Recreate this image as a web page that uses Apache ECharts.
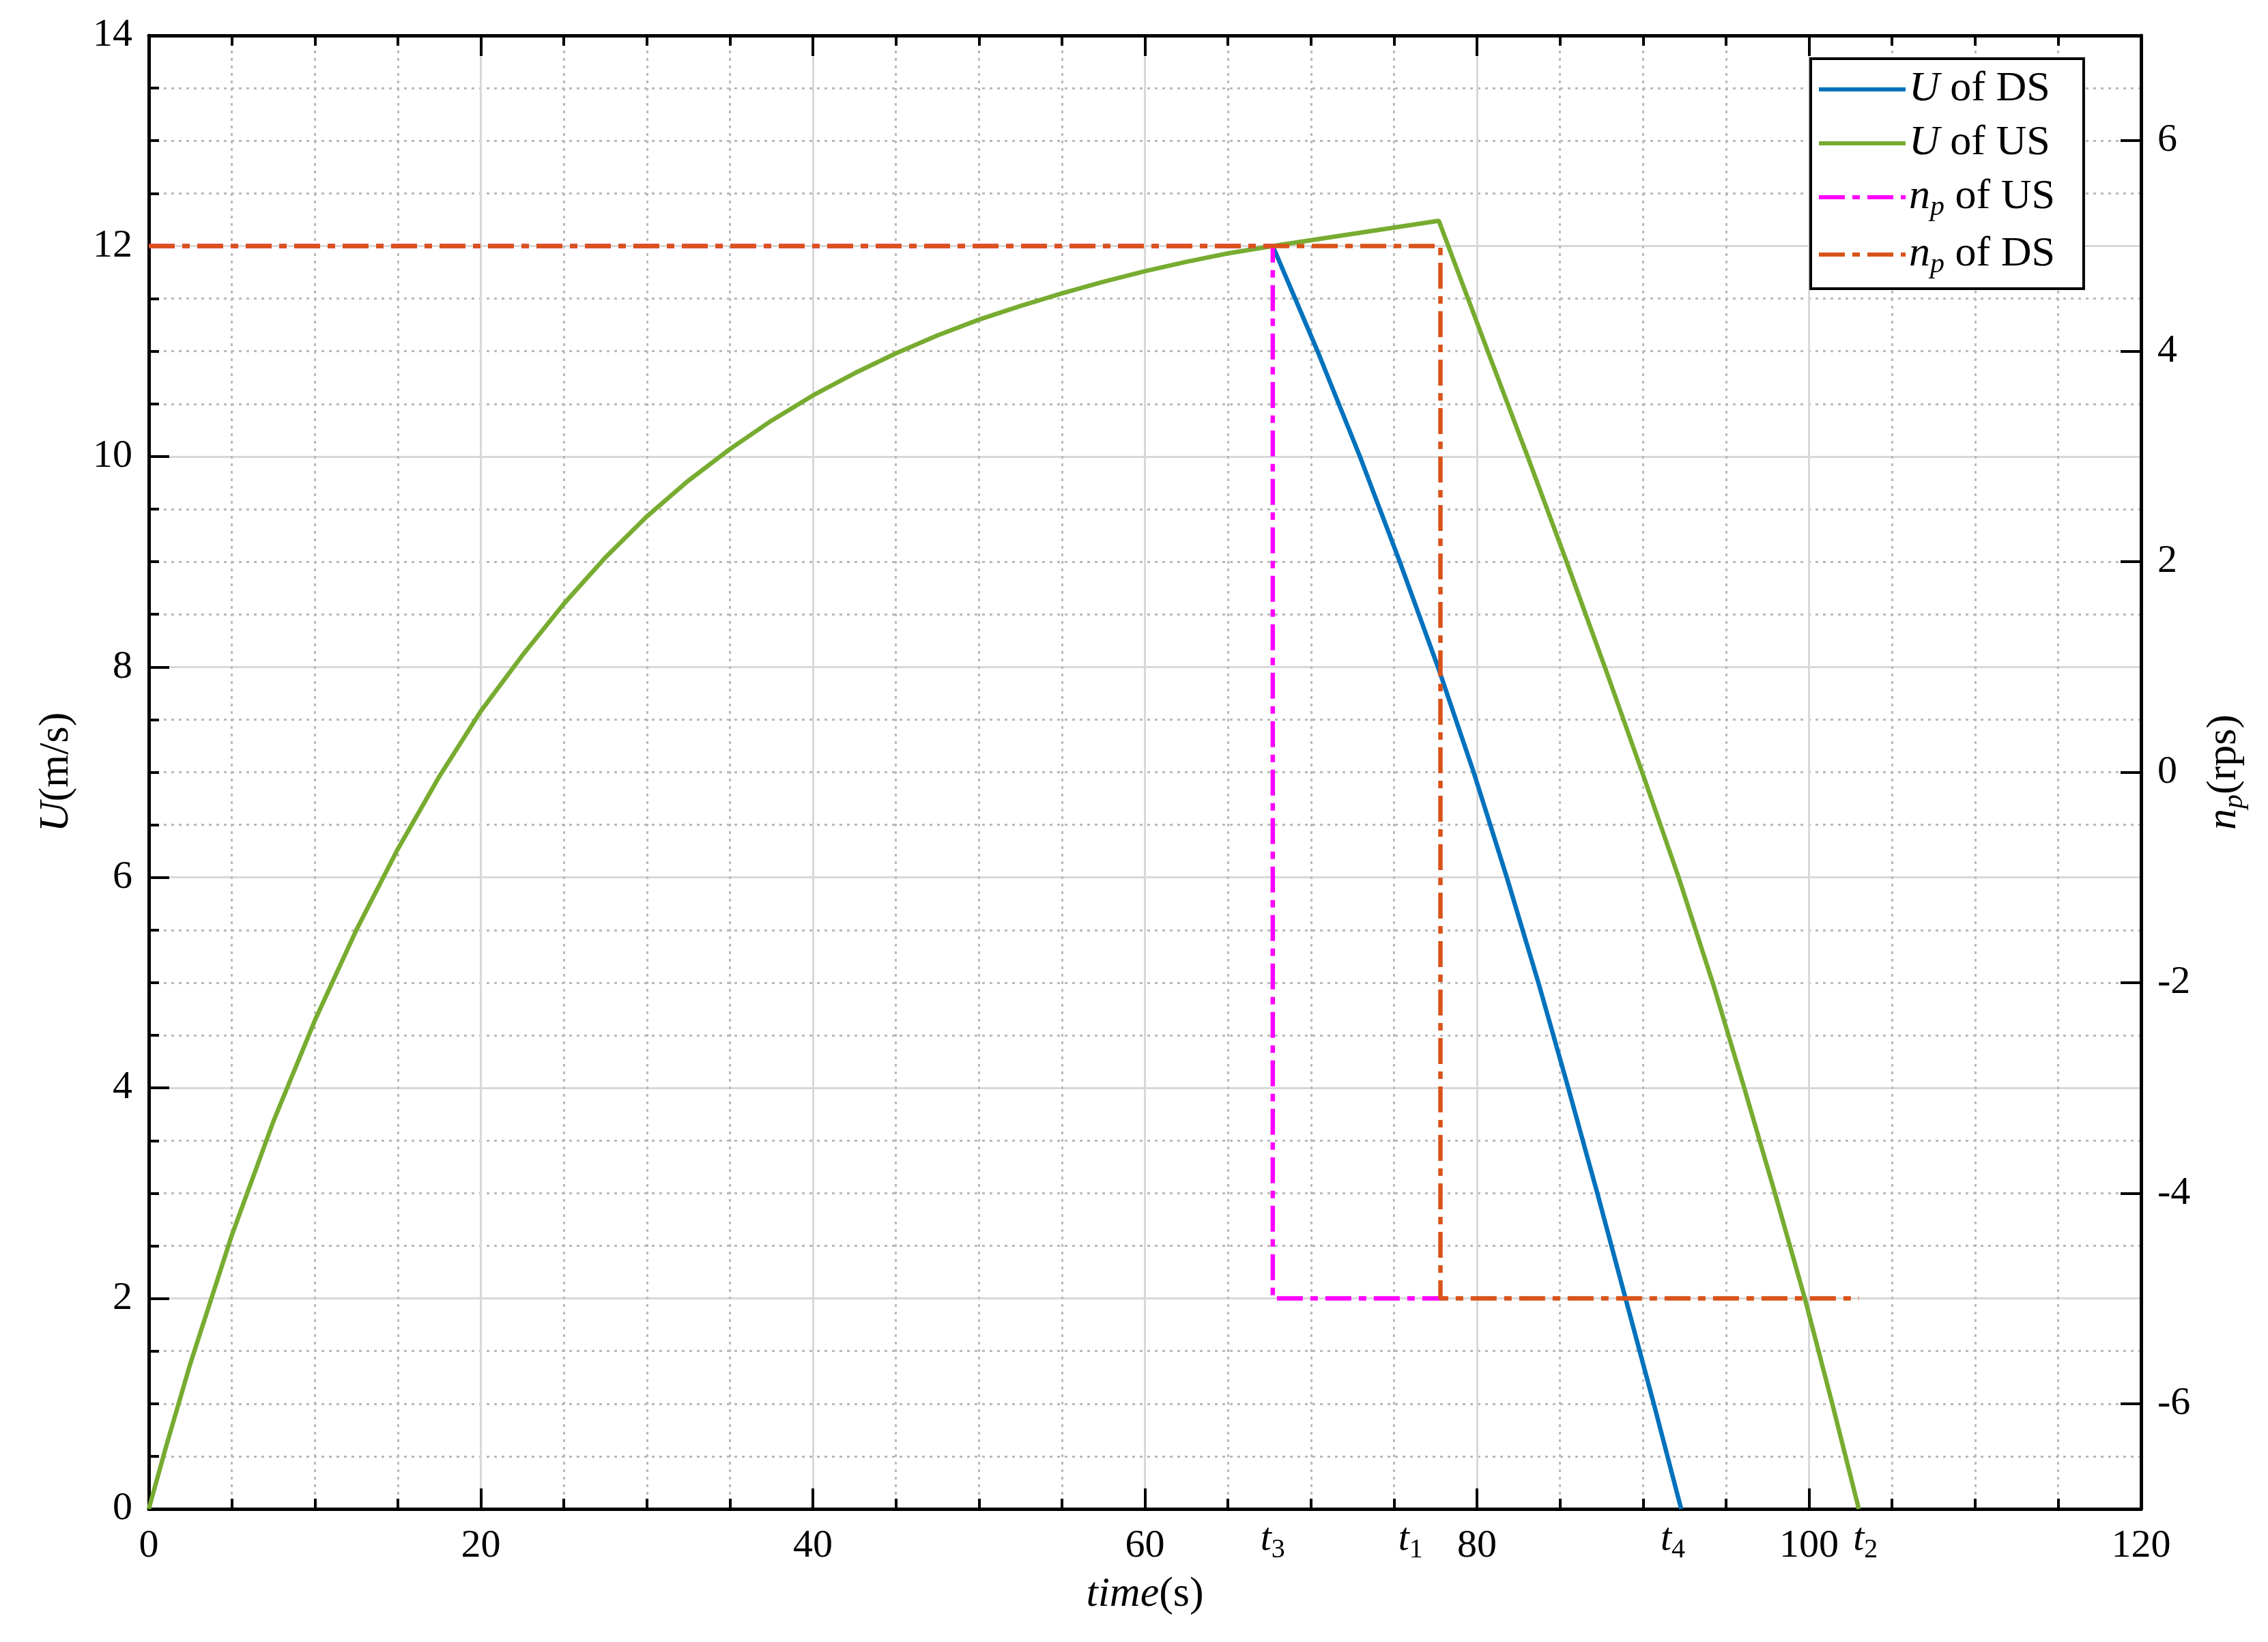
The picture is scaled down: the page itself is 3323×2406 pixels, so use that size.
<!DOCTYPE html>
<html><head><meta charset="utf-8">
<script src="https://cdn.jsdelivr.net/npm/echarts@6/dist/echarts.min.js"></script>
<style>html,body{margin:0;padding:0;background:#fff}#c{width:3323px;height:2406px}</style>
</head><body><div id="c"></div>
<script>
// ---- data ----
const tUS = [0, 1, 2.5, 5, 7.5, 10, 12.5, 15, 17.5, 20, 22.5, 25, 27.5, 30, 32.5, 35, 37.5, 40, 42.5, 45, 47.5, 50, 52.5, 55, 57.5, 60, 62.5, 65, 67.7,
             77.7, 80.65, 83.05, 85.4, 87.7, 89.95, 92.15, 94.2, 96.1, 97.95, 99.75, 101.4, 103.0];
const uUS = [0, 0.57, 1.38, 2.6, 3.68, 4.64, 5.5, 6.27, 6.96, 7.58, 8.11, 8.6, 9.04, 9.43, 9.77, 10.07, 10.34, 10.58, 10.79, 10.98, 11.15, 11.3, 11.43, 11.55, 11.66, 11.76, 11.85, 11.93, 12.0,
             12.24, 11, 10, 9, 8, 7, 6, 5, 4, 3, 2, 1, 0];
const tDS = [67.7, 70.4, 72.95, 75.35, 77.65, 79.8, 81.8, 83.7, 85.5, 87.25, 88.95, 90.65, 92.3];
const uDS = [12.0, 11, 10, 9, 8, 7, 6, 5, 4, 3, 2, 1, 0];
const tNpUS = [0, 67.7, 67.7, 77.8];
const npUS = [5, 5, -5, -5];
const tNpDS = [0, 77.8, 77.8, 103.0];
const npDS = [5, 5, -5, -5];
const eventTicks = [67.7, 76.0, 91.8, 103.4];
const eventSubs = ['3', '1', '4', '2'];
const rightTicks = [-6, -4, -2, 0, 2, 4, 6];
const seriesNames = ['U of DS', 'U of US', 'n_p of US', 'n_p of DS'];
const legendRich = ['{i|U} of DS', '{i|U} of US', '{i|n}{sub|p} of US', '{i|n}{sub|p} of DS'];

const zip = (a, b) => a.map((v, i) => [v, b[i]]);
const FONT = "'Liberation Serif', 'Times New Roman', serif";
const FS = 58;
const LFS = 62;
const legendRichStyles = {
  i: { fontFamily: FONT, fontStyle: 'italic', fontSize: LFS, color: '#000' },
  sub: { fontFamily: FONT, fontStyle: 'italic', fontSize: 42, color: '#000', padding: [30, 0, 0, 0] }
};
const axisLineStyle = { color: '#000', width: 5 };
const tickStyle = { color: '#000', width: 4 };
const majorGrid = { show: true, lineStyle: { color: '#d8d8d8', width: 3, type: 'solid' } };
const minorGrid = { show: true, lineStyle: { color: '#b9b9b9', width: 3, type: [4, 7] } };
const LW = 6.5;
const solidIcon = 'path://M0,0H127V6H0Z';
const dashIcon = 'path://M0,0H38V6H0Z M49,0H60V6H49Z M71,0H109V6H71Z M120,0H127V6H120Z';

const chart = echarts.init(document.getElementById('c'), null, { renderer: 'canvas' });
const dashDot = [38, 11, 11, 11];
chart.setOption({
  animation: false,
  backgroundColor: '#fff',
  grid: { left: 218, right: 186, top: 52, bottom: 195, containLabel: false },
  legend: {
    orient: 'vertical', left: 2653, top: 86,
    data: [
      { name: seriesNames[0], icon: solidIcon, itemStyle: { color: '#0072BD' } },
      { name: seriesNames[1], icon: solidIcon, itemStyle: { color: '#77AC30' } },
      { name: seriesNames[2], icon: dashIcon, itemStyle: { color: '#FF00FF' } },
      { name: seriesNames[3], icon: dashIcon, itemStyle: { color: '#D95319' } }
    ],
    itemWidth: 127, itemHeight: 6, itemGap: 17,
    padding: [14, 42, 14, 12],
    backgroundColor: '#fff', borderColor: '#000', borderWidth: 4, borderRadius: 0,
    formatter: n => legendRich[seriesNames.indexOf(n)],
    textStyle: { fontFamily: FONT, fontSize: LFS, color: '#000', lineHeight: 60, rich: legendRichStyles }
  },
  xAxis: [
    {
      type: 'value', min: 0, max: 120, interval: 20, position: 'bottom',
      name: '{i|time}(s)', nameLocation: 'middle', nameGap: 95,
      nameTextStyle: { fontFamily: FONT, fontSize: 62, color: '#000', rich: { i: { fontFamily: FONT, fontStyle: 'italic', fontSize: 62, color: '#000' } } },
      axisLine: { show: true, onZero: false, lineStyle: axisLineStyle },
      axisTick: { show: true, inside: true, length: 30, lineStyle: tickStyle },
      minorTick: { show: true, splitNumber: 4, length: 15, lineStyle: tickStyle },
      axisLabel: { fontFamily: FONT, fontSize: FS, color: '#000', margin: 26 },
      splitLine: majorGrid, minorSplitLine: minorGrid
    },
    {
      type: 'value', min: 0, max: 120, position: 'bottom',
      axisLine: { show: false }, axisTick: { show: false }, splitLine: { show: false },
      axisLabel: {
        show: true, customValues: eventTicks, margin: 10,
        formatter: v => '{t|t}{s|' + eventSubs[eventTicks.indexOf(v)] + '}',
        rich: {
          t: { fontFamily: FONT, fontStyle: 'italic', fontSize: FS, color: '#000' },
          s: { fontFamily: FONT, fontSize: 40, color: '#000', padding: [30, 0, 0, 0] }
        }
      }
    },
    {
      type: 'value', min: 0, max: 120, interval: 20, position: 'top',
      axisLine: { show: true, onZero: false, lineStyle: axisLineStyle },
      axisTick: { show: true, inside: true, length: 30, lineStyle: tickStyle },
      minorTick: { show: true, splitNumber: 4, length: 15, lineStyle: tickStyle },
      axisLabel: { show: false }, splitLine: { show: false }
    }
  ],
  yAxis: [
    {
      type: 'value', min: 0, max: 14, interval: 2, position: 'left',
      name: '{i|U}(m/s)', nameLocation: 'middle', nameGap: 104,
      nameTextStyle: { fontFamily: FONT, fontSize: 62, color: '#000', rich: { i: { fontFamily: FONT, fontStyle: 'italic', fontSize: 62, color: '#000' } } },
      axisLine: { show: true, onZero: false, lineStyle: axisLineStyle },
      axisTick: { show: true, inside: true, length: 30, lineStyle: tickStyle },
      minorTick: { show: true, splitNumber: 4, length: 15, lineStyle: tickStyle },
      axisLabel: { fontFamily: FONT, fontSize: FS, color: '#000', margin: 24 },
      splitLine: majorGrid, minorSplitLine: minorGrid
    },
    {
      type: 'value', min: -7, max: 7, position: 'right',
      name: '{i|n}{sub|p}(rps)', nameLocation: 'middle', nameGap: 86,
      nameTextStyle: { fontFamily: FONT, fontSize: 62, color: '#000', rich: {
        i: { fontFamily: FONT, fontStyle: 'italic', fontSize: 62, color: '#000' },
        sub: { fontFamily: FONT, fontStyle: 'italic', fontSize: 42, color: '#000', padding: [30, 0, 0, 0] } } },
      axisLine: { show: true, onZero: false, lineStyle: axisLineStyle },
      axisTick: { show: true, inside: true, length: 30, customValues: rightTicks, lineStyle: tickStyle },
      axisLabel: { fontFamily: FONT, fontSize: FS, color: '#000', margin: 24, customValues: rightTicks },
      splitLine: { show: false }
    }
  ],
  series: [
    { name: seriesNames[0], type: 'line', xAxisIndex: 0, yAxisIndex: 0, data: zip(tDS, uDS), symbol: 'none', showSymbol: false,
      lineStyle: { color: '#0072BD', width: LW }, itemStyle: { color: '#0072BD' } },
    { name: seriesNames[1], type: 'line', xAxisIndex: 0, yAxisIndex: 0, data: zip(tUS, uUS), symbol: 'none', showSymbol: false,
      lineStyle: { color: '#77AC30', width: LW }, itemStyle: { color: '#77AC30' } },
    { name: seriesNames[2], type: 'line', xAxisIndex: 0, yAxisIndex: 1, data: zip(tNpUS, npUS), symbol: 'none', showSymbol: false,
      lineStyle: { color: '#FF00FF', width: LW, type: dashDot, cap: 'butt' }, itemStyle: { color: '#FF00FF' } },
    { name: seriesNames[3], type: 'line', xAxisIndex: 0, yAxisIndex: 1, data: zip(tNpDS, npDS), symbol: 'none', showSymbol: false,
      lineStyle: { color: '#D95319', width: LW, type: dashDot, cap: 'butt' }, itemStyle: { color: '#D95319' } }
  ]
});
</script></body></html>
